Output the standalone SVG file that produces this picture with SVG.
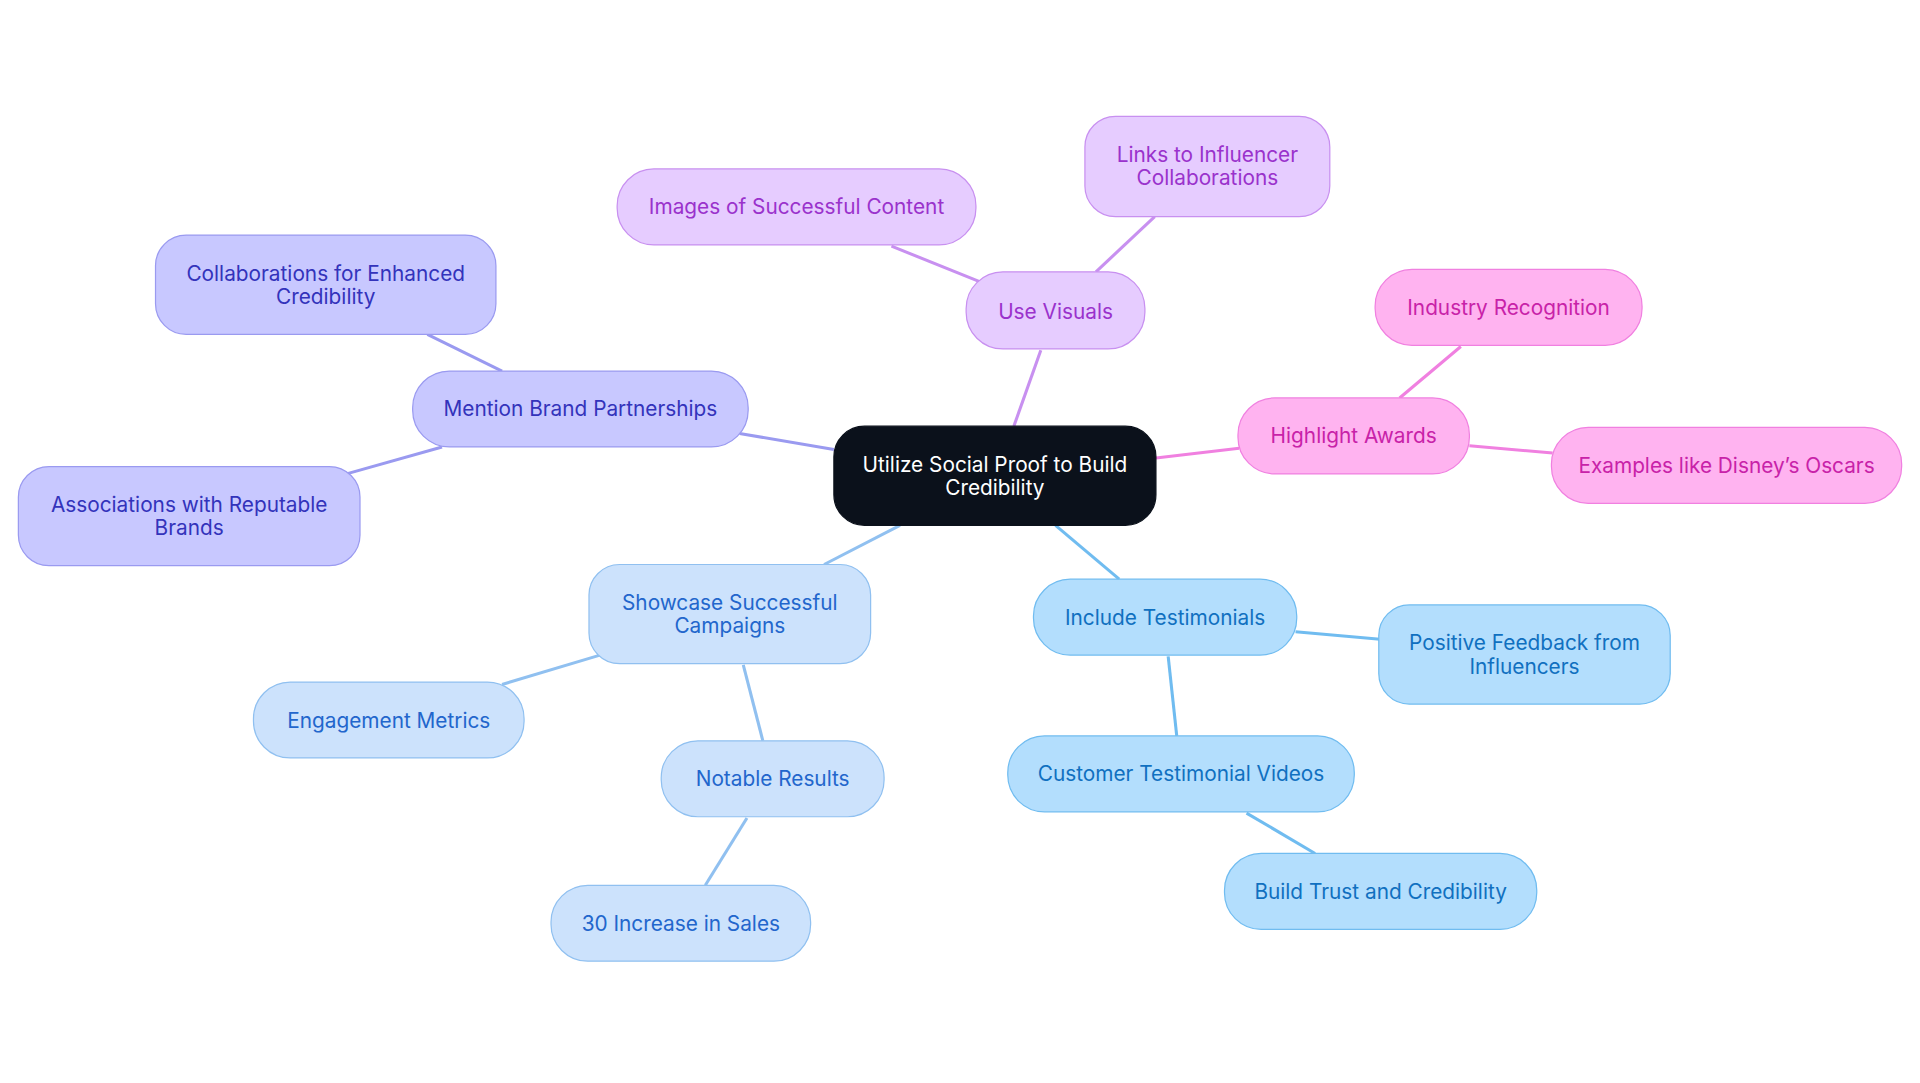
<svg xmlns="http://www.w3.org/2000/svg" width="1920" height="1083" viewBox="0 0 1920 1083">
<style>
text{font-family:Inter,"Noto Sans",sans-serif;font-size:17px;text-anchor:middle;dominant-baseline:central}
rect{stroke-width:1}
.c rect{fill:#0b111b;stroke:#0b111b}.c text{fill:#fff}
.p rect{fill:#e6ccff;stroke:#c890f0}.p text{fill:#9a32cc}
.k rect{fill:#ffb3f0;stroke:#f080e0}.k text{fill:#c822a8}
.v rect{fill:#c8c8ff;stroke:#9a9af0}.v text{fill:#3333bb}
.b rect{fill:#cce2fc;stroke:#90c0f0}.b text{fill:#2266cc}
.t rect{fill:#b3defd;stroke:#70bcf0}.t text{fill:#1070c0}
line{stroke-width:2.5;fill:none}
</style>
<rect width="1920" height="1083" fill="#fff"/>
<g transform="scale(1.2245)">
<g id="connectors">
<line x1="828" y1="348" x2="850" y2="286" stroke="#c890f0"/>
<line x1="800" y1="230" x2="728" y2="201" stroke="#c890f0"/>
<line x1="895" y1="222" x2="943" y2="177" stroke="#c890f0"/>
<line x1="944" y1="374" x2="1012" y2="366" stroke="#f080e0"/>
<line x1="1143" y1="325" x2="1193" y2="283" stroke="#f080e0"/>
<line x1="1200" y1="364" x2="1268" y2="370" stroke="#f080e0"/>
<line x1="681" y1="367" x2="604" y2="354" stroke="#9a9af0"/>
<line x1="410" y1="303" x2="349" y2="273" stroke="#9a9af0"/>
<line x1="361" y1="365" x2="283" y2="387" stroke="#9a9af0"/>
<line x1="735" y1="429" x2="673" y2="461" stroke="#90c0f0"/>
<line x1="490" y1="535" x2="410" y2="559" stroke="#90c0f0"/>
<line x1="607" y1="543" x2="623" y2="605" stroke="#90c0f0"/>
<line x1="610" y1="668" x2="576" y2="723" stroke="#90c0f0"/>
<line x1="862" y1="429" x2="914" y2="473" stroke="#70bcf0"/>
<line x1="1058" y1="516" x2="1127" y2="522" stroke="#70bcf0"/>
<line x1="954" y1="536" x2="961" y2="601" stroke="#70bcf0"/>
<line x1="1018" y1="664" x2="1074" y2="697" stroke="#70bcf0"/>
</g>
<g id="center" class="c"><rect x="681" y="348" width="263" height="81" rx="25"/><text x="812.5" y="379">Utilize Social Proof to Build</text><text x="812.5" y="398">Credibility</text></g>
<g id="use-visuals" class="p"><rect x="789" y="222" width="146" height="63" rx="30"/><text x="862" y="254">Use Visuals</text></g>
<g id="images" class="p"><rect x="504" y="138" width="293" height="62" rx="30"/><text x="650.5" y="169">Images of Successful Content</text></g>
<g id="links" class="p"><rect x="886" y="95" width="200" height="82" rx="25"/><text x="986" y="126">Links to Influencer</text><text x="986" y="145">Collaborations</text></g>
<g id="awards" class="k"><rect x="1011" y="325" width="189" height="62" rx="30"/><text x="1105.5" y="356">Highlight Awards</text></g>
<g id="industry" class="k"><rect x="1123" y="220" width="218" height="62" rx="30"/><text x="1232" y="251">Industry Recognition</text></g>
<g id="oscars" class="k"><rect x="1267" y="349" width="286" height="62" rx="30"/><text x="1410" y="380">Examples like Disney’s Oscars</text></g>
<g id="brands" class="v"><rect x="337" y="303" width="274" height="62" rx="30"/><text x="474" y="334">Mention Brand Partnerships</text></g>
<g id="collab" class="v"><rect x="127" y="192" width="278" height="81" rx="25"/><text x="266" y="223">Collaborations for Enhanced</text><text x="266" y="242">Credibility</text></g>
<g id="assoc" class="v"><rect x="15" y="381" width="279" height="81" rx="25"/><text x="154.5" y="412">Associations with Reputable</text><text x="154.5" y="431">Brands</text></g>
<g id="showcase" class="b"><rect x="481" y="461" width="230" height="81" rx="25"/><text x="596" y="492">Showcase Successful</text><text x="596" y="511">Campaigns</text></g>
<g id="engagement" class="b"><rect x="207" y="557" width="221" height="62" rx="30"/><text x="317.5" y="588">Engagement Metrics</text></g>
<g id="notable" class="b"><rect x="540" y="605" width="182" height="62" rx="30"/><text x="631" y="636">Notable Results</text></g>
<g id="sales" class="b"><rect x="450" y="723" width="212" height="62" rx="30"/><text x="556" y="754">30 Increase in Sales</text></g>
<g id="testimonials" class="t"><rect x="844" y="473" width="215" height="62" rx="30"/><text x="951.5" y="504">Include Testimonials</text></g>
<g id="positive" class="t"><rect x="1126" y="494" width="238" height="81" rx="25"/><text x="1245" y="525">Positive Feedback from</text><text x="1245" y="544">Influencers</text></g>
<g id="videos" class="t"><rect x="823" y="601" width="283" height="62" rx="30"/><text x="964.5" y="632">Customer Testimonial Videos</text></g>
<g id="trust" class="t"><rect x="1000" y="697" width="255" height="62" rx="30"/><text x="1127.5" y="728">Build Trust and Credibility</text></g>
</g>
</svg>
